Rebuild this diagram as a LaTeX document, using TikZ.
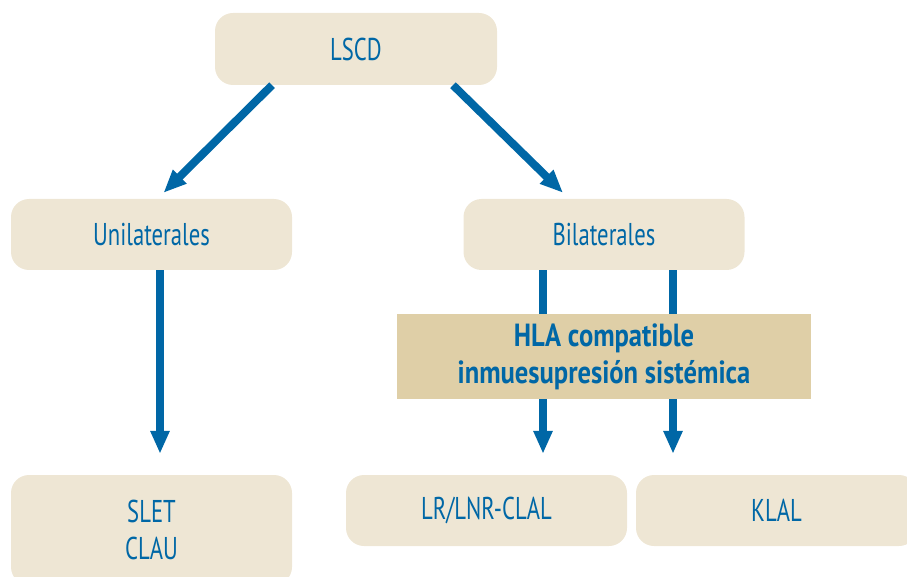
\documentclass[tikz,border=0pt]{standalone}
\usepackage{fontspec}
\setmainfont[FakeStretch=0.72]{PT Sans}
\newfontfamily\hlafont[FakeStretch=0.83]{PT Sans}
\usetikzlibrary{arrows.meta}
\definecolor{bluec}{HTML}{0067A6}
\definecolor{boxc}{HTML}{EEE6D4}
\definecolor{hlac}{HTML}{DFCFA7}
\tikzset{
  box/.style={fill=boxc, rounded corners=18pt, text=bluec, align=center, inner sep=0pt,
    minimum width=281pt, minimum height=71pt, font=\fontsize{31.5}{37}\selectfont},
  hlabox/.style={fill=hlac, text=bluec, align=center, inner sep=0pt,
    minimum width=414pt, minimum height=85pt, font=\hlafont\fontsize{32}{37}\selectfont\bfseries},
  arr/.style={draw=bluec, line width=8pt, -{Triangle[length=23pt,width=18pt]}},
}
\begin{document}
\begin{tikzpicture}[x=1pt,y=-1pt]
\useasboundingbox (0,0) rectangle (907,577);
\clip (0,0) rectangle (907,577);
\node[box, minimum width=282pt, minimum height=72pt] (lscd) at (356,49) {LSCD};
\node[box] (uni) at (151.5,234.5) {Unilaterales};
\node[box] (bil) at (604,234.5) {Bilaterales};
\node[box, minimum height=110pt] (slet) at (151.5,530) {SLET\\CLAU};
\node[box] (lr) at (486.5,510.5) {LR/LNR-CLAL};
\node[box] (klal) at (776.5,510.5) {KLAL};
\coordinate (t1) at ([xshift=12pt,yshift=6pt]uni.north);
\coordinate (t2) at ([xshift=-41pt,yshift=6pt]bil.north);
\draw[arr] ([xshift=-84pt]lscd.south) -- (t1);
\draw[arr] ([xshift=97pt]lscd.south) -- (t2);
\coordinate (t3) at ([xshift=8.5pt,yshift=21pt]slet.north);
\draw[arr] ([xshift=8.5pt]uni.south) -- (t3);
\coordinate (t4) at ([xshift=56.5pt,yshift=21pt]lr.north);
\coordinate (t5) at ([xshift=-103.5pt,yshift=21pt]klal.north);
\draw[arr] ([xshift=-61pt]bil.south) -- (t4);
\draw[arr] ([xshift=69pt]bil.south) -- (t5);
\node[hlabox] (hla) at (604,356.5) {HLA compatible\\inmuesupresión sistémica};
\end{tikzpicture}
\end{document}
